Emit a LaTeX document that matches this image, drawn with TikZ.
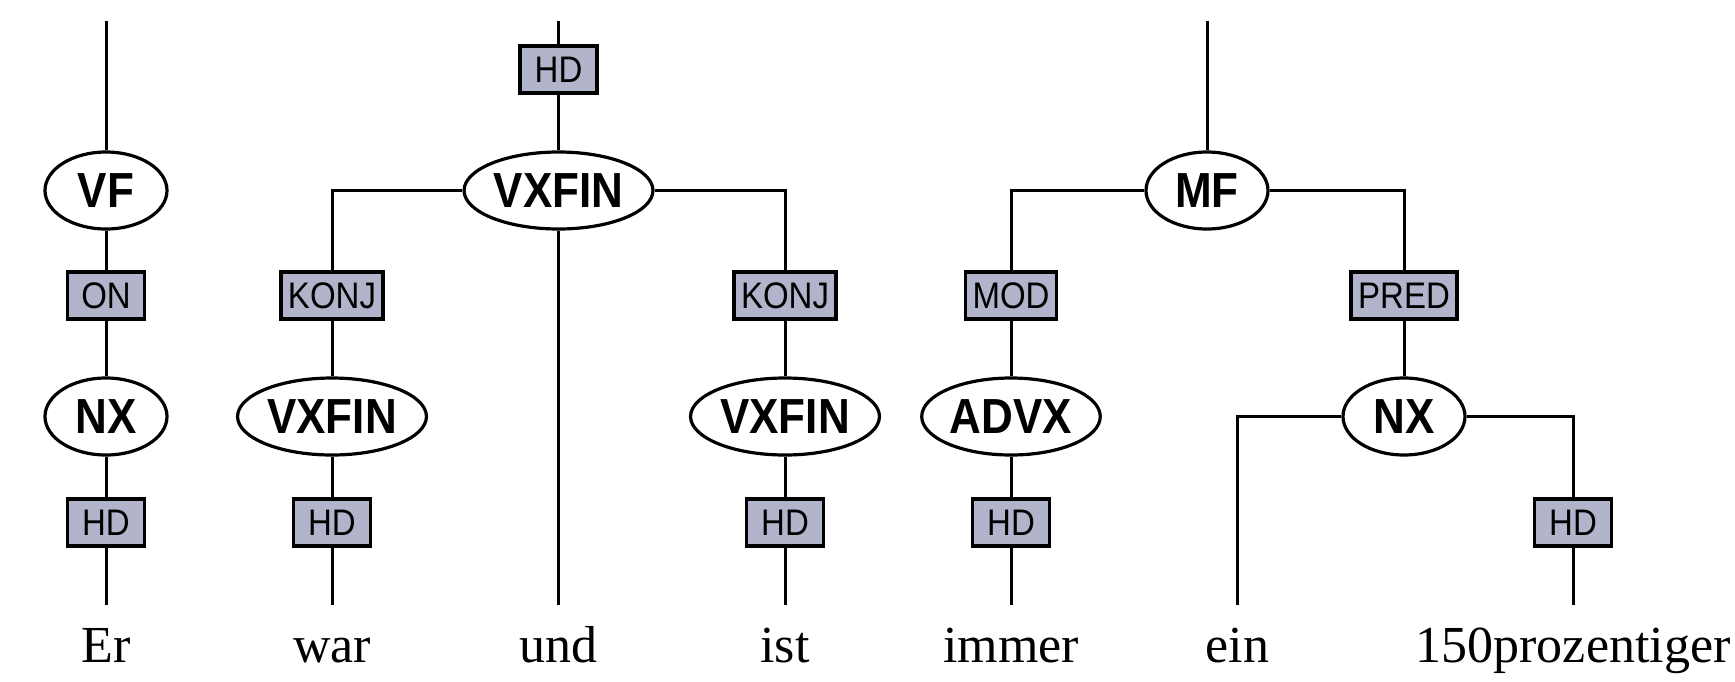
\documentclass[tikz,border=0pt]{standalone}
\usepackage{graphicx}
\usepackage{fontspec}
\setmainfont{Liberation Serif}
\newfontfamily\lsans{Liberation Sans}
\usetikzlibrary{shapes.geometric}
\definecolor{boxfill}{RGB}{178,180,204}
\newcommand{\ysc}[1]{\scalebox{1}[1.12]{#1}}
\begin{document}
\begin{tikzpicture}[x=0.5pt,y=-0.5pt,
  cat/.style={ellipse,draw,line width=1.6pt,fill=white,minimum width=61pt,minimum height=38.5pt,inner sep=1pt,font=\lsans\bfseries\fontsize{22}{24}\selectfont},
  fn/.style={rectangle,draw,line width=1.8pt,fill=boxfill,minimum width=38.5pt,minimum height=23.5pt,inner xsep=3.5pt,inner ysep=0pt,font=\lsans\fontsize{16.5}{18}\selectfont},
  word/.style={anchor=base,font=\fontsize{26}{30}\selectfont,inner sep=0pt},
  edge/.style={line width=1.5pt}]
\useasboundingbox (0,0) rectangle (1735,681);
% column Er
\coordinate (erTop) at (106,21);
\node[cat] (vf) at (106,190.5) {\ysc{VF}};
\node[fn] (on) at (106,295.5) {\ysc{ON}};
\node[cat] (nx1) at (106,416.5) {\ysc{NX}};
\node[fn] (hd1) at (106,522.5) {\ysc{HD}};
\coordinate (erBot) at (106,605);
\node[word] (w1) at (106,662) {Er};
% column und
\coordinate (undTop) at (558.5,21);
\node[fn] (hd0) at (558.5,69.5) {\ysc{HD}};
\node[cat] (vx0) at (558.5,190.5) {\ysc{VXFIN}};
\coordinate (undBot) at (558.5,605);
\node[word] (w3) at (558.5,662) {und};
% column war
\node[fn] (konj1) at (332,295.5) {\ysc{KONJ}};
\node[cat] (vx1) at (332,416.5) {\ysc{VXFIN}};
\node[fn] (hd2) at (332,522.5) {\ysc{HD}};
\coordinate (warBot) at (332,605);
\node[word] (w2) at (332,662) {war};
% column ist
\node[fn] (konj2) at (785,295.5) {\ysc{KONJ}};
\node[cat] (vx2) at (785,416.5) {\ysc{VXFIN}};
\node[fn] (hd3) at (785,522.5) {\ysc{HD}};
\coordinate (istBot) at (785,605);
\node[word] (w4) at (785,662) {ist};
% MF
\coordinate (mfTop) at (1207,21);
\node[cat] (mf) at (1207,190.5) {\ysc{MF}};
\node[fn] (mod) at (1011,295.5) {\ysc{MOD}};
\node[cat] (advx) at (1011,416.5) {\ysc{ADVX}};
\node[fn] (hd4) at (1011,522.5) {\ysc{HD}};
\coordinate (immerBot) at (1011,605);
\node[word] (w5) at (1011,662) {immer};
\node[fn] (pred) at (1404,295.5) {\ysc{PRED}};
\node[cat] (nx2) at (1404,416.5) {\ysc{NX}};
\coordinate (einBot) at (1237.5,605);
\node[word] (w6) at (1237.5,662) {ein};
\node[fn] (hd5) at (1573,522.5) {\ysc{HD}};
\coordinate (prozBot) at (1573,605);
\node[word] (w7) at (1573,662) {150prozentiger};
% edges
\draw[edge] (erTop) -- (vf);
\draw[edge] (vf) -- (on);
\draw[edge] (on) -- (nx1);
\draw[edge] (nx1) -- (hd1);
\draw[edge] (hd1) -- (erBot);
\draw[edge] (undTop) -- (hd0);
\draw[edge] (hd0) -- (vx0);
\draw[edge] (vx0) -- (undBot);
\draw[edge] (vx0.west) -| (konj1.north);
\draw[edge] (vx0.east) -| (konj2.north);
\draw[edge] (konj1) -- (vx1);
\draw[edge] (vx1) -- (hd2);
\draw[edge] (hd2) -- (warBot);
\draw[edge] (konj2) -- (vx2);
\draw[edge] (vx2) -- (hd3);
\draw[edge] (hd3) -- (istBot);
\draw[edge] (mfTop) -- (mf);
\draw[edge] (mf.west) -| (mod.north);
\draw[edge] (mf.east) -| (pred.north);
\draw[edge] (mod) -- (advx);
\draw[edge] (advx) -- (hd4);
\draw[edge] (hd4) -- (immerBot);
\draw[edge] (pred) -- (nx2);
\draw[edge] (nx2.west) -| (einBot);
\draw[edge] (nx2.east) -| (hd5.north);
\draw[edge] (hd5) -- (prozBot);
\end{tikzpicture}
\end{document}
